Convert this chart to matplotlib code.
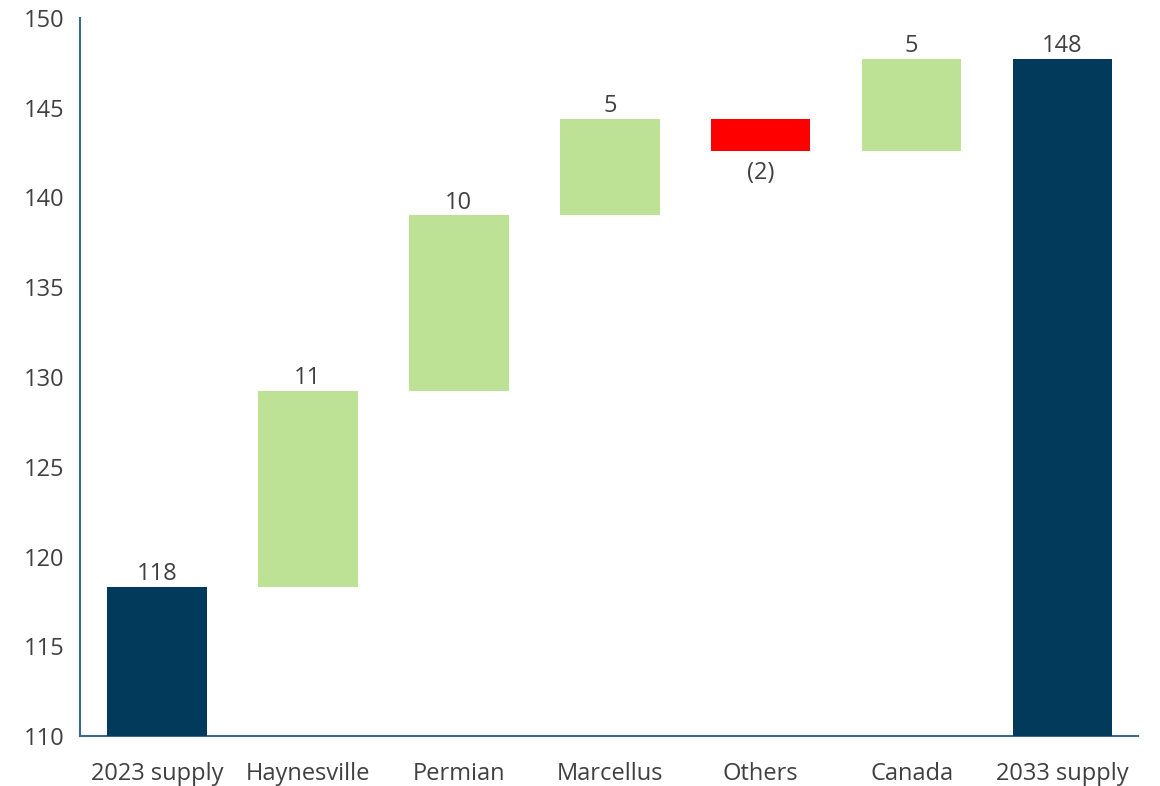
import matplotlib
matplotlib.use('Agg')
import matplotlib.pyplot as plt
import numpy as np

# --- Data ---
categories = ["2023 supply", "Haynesville", "Permian", "Marcellus", "Others", "Canada", "2033 supply"]
start_value = 118.3
deltas = [10.9, 9.8, 5.4, -1.8, 5.1]
delta_labels = ["11", "10", "5", "(2)", "5"]
start_label = "118"
end_label = "148"

NAVY = '#023A5B'
GREEN = '#BDE296'
RED = '#FF0000'
TEXT = '#404040'
SPINE = '#3C6A8E'
FS = 17

plt.rcParams['font.family'] = ['Open Sans', 'DejaVu Sans']

fig = plt.figure(figsize=(11.6, 7.86), dpi=100)
ax = fig.add_axes([80 / 1160, 1 - 736 / 786, 1058 / 1160, 718 / 786])

x = np.arange(len(categories))
width = 0.66
base = 110

# totals
end_value = start_value + sum(deltas)
ax.bar(x[0], start_value - base, bottom=base, width=width, color=NAVY, zorder=3)
ax.bar(x[-1], end_value - base, bottom=base, width=width, color=NAVY, zorder=3)
ax.text(x[0], start_value + 0.05, start_label, ha='center', va='bottom', fontsize=FS, color=TEXT)
ax.text(x[-1], end_value + 0.05, end_label, ha='center', va='bottom', fontsize=FS, color=TEXT)

# floating steps
level = start_value
for i, d in enumerate(deltas):
    xi = x[i + 1]
    lo = min(level, level + d)
    ax.bar(xi, abs(d), bottom=lo, width=width, color=GREEN if d >= 0 else RED, zorder=3)
    if d >= 0:
        ax.text(xi, level + d + 0.05, delta_labels[i], ha='center', va='bottom', fontsize=FS, color=TEXT)
    else:
        ax.text(xi, level + d - 0.55, delta_labels[i], ha='center', va='top', fontsize=FS, color=TEXT)
    level += d

ax.set_xlim(-0.51, 6.5)
ax.set_ylim(110, 150)
ax.set_yticks(np.arange(110, 151, 5))
ax.set_xticks(x)
ax.set_xticklabels(categories)
ax.tick_params(axis='both', length=0, labelsize=FS, labelcolor=TEXT)
ax.tick_params(axis='x', pad=19)
ax.tick_params(axis='y', pad=11)

for side in ['top', 'right']:
    ax.spines[side].set_visible(False)
for side in ['left', 'bottom']:
    ax.spines[side].set_color(SPINE)
    ax.spines[side].set_linewidth(1.5)

fig.savefig('out.png', dpi=100)
